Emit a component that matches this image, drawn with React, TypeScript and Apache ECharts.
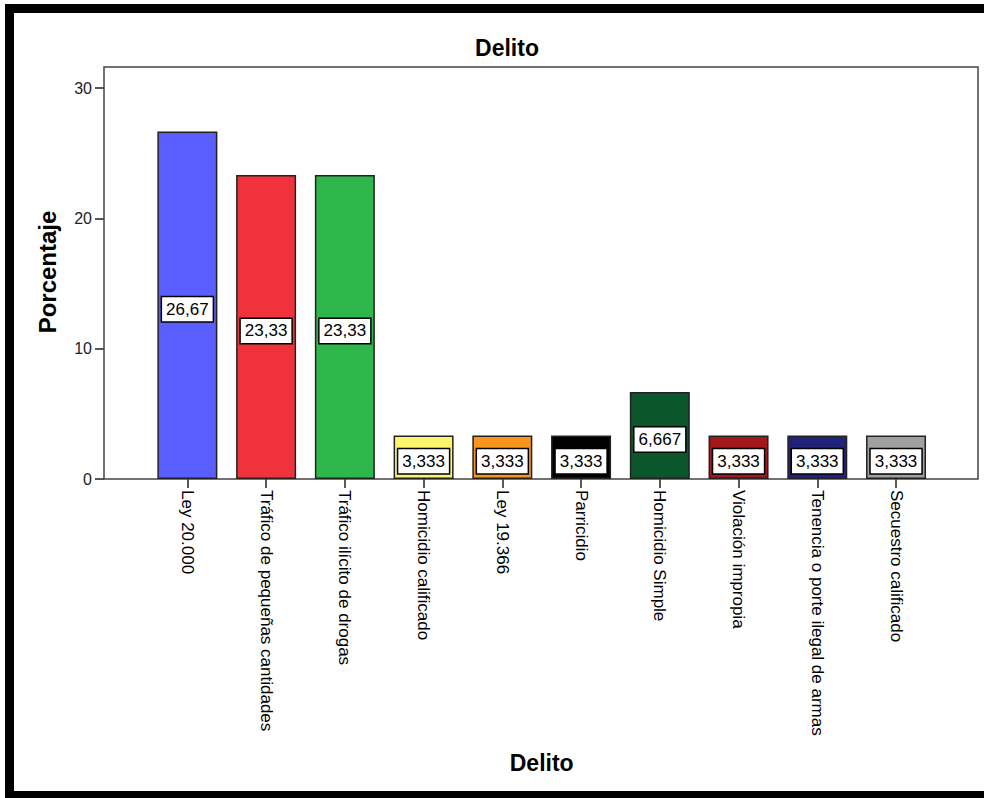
import React, { useEffect, useRef } from "react";
import * as echarts from "echarts";

const categories = [
  "Ley 20.000",
  "Tráfico de pequeñas cantidades",
  "Tráfico ilícito de drogas",
  "Homicidio calificado",
  "Ley 19.366",
  "Parricidio",
  "Homicidio Simple",
  "Violación impropia",
  "Tenencia o porte ilegal de armas",
  "Secuestro calificado",
];
const percentages = [26.67, 23.33, 23.33, 3.333, 3.333, 3.333, 6.667, 3.333, 3.333, 3.333];
const barColors = [
  "#5a5eff",
  "#f0323c",
  "#2eb84b",
  "#fbf46c",
  "#f8951e",
  "#000000",
  "#0b562b",
  "#a31619",
  "#21237a",
  "#a0a0a0",
];
const yTicks = [0, 10, 20, 30];

const FONT = "'Liberation Sans', Arial, sans-serif";

export default function App() {
  const ref = useRef<HTMLDivElement>(null);
  useEffect(() => {
    if (!ref.current) return;
    const chart = echarts.init(ref.current, null, { renderer: "svg" });
    chart.setOption({
      animation: false,
      backgroundColor: "#ffffff",
      title: {
        text: "Delito",
        left: 502,
        top: 31,
        textAlign: "center",
        textStyle: { fontFamily: FONT, fontSize: 23, fontWeight: "bold", color: "#000" },
      },
      grid: { left: 148, right: 48.6, top: 88, bottom: 319, containLabel: false },
      xAxis: {
        type: "category",
        data: categories,
        name: "Delito",
        nameLocation: "middle",
        nameGap: 272,
        nameTextStyle: { fontFamily: FONT, fontSize: 23, fontWeight: "bold", color: "#000" },
        axisLine: { show: false },
        axisTick: { show: true, alignWithLabel: true, length: 9, lineStyle: { color: "#222", width: 1.5 } },
        axisLabel: {
          interval: 0,
          rotate: -90,
          margin: 11,
          fontFamily: FONT,
          fontSize: 17,
          color: "#000",
        },
      },
      yAxis: {
        type: "value",
        min: yTicks[0],
        max: yTicks[yTicks.length - 1],
        interval: 10,
        offset: 44,
        axisLine: { show: false },
        splitLine: { show: false },
        axisTick: { show: true, length: 9, lineStyle: { color: "#222", width: 1.5 } },
        axisLabel: { fontFamily: FONT, fontSize: 16, color: "#222", margin: 12 },
      },
      graphic: [
        {
          type: "rect",
          z: 1,
          shape: { x: 104, y: 67, width: 874, height: 412 },
          style: { fill: "none", stroke: "#444", lineWidth: 1.5 },
        },
        {
          type: "text",
          x: 47,
          y: 272,
          rotation: Math.PI / 2,
          style: {
            text: "Porcentaje",
            font: `bold 24px ${FONT}`,
            fill: "#000",
            textAlign: "center",
            textVerticalAlign: "middle",
          },
        },
        {
          type: "rect",
          z: 150,
          shape: { x: 979.5, y: 13, width: 10, height: 778 },
          style: { fill: "#ffffff" },
        },
        {
          type: "rect",
          z: 160,
          shape: { x: 5, y: 4, width: 985, height: 9 },
          style: { fill: "#000000" },
        },
        {
          type: "rect",
          z: 160,
          shape: { x: 5, y: 4, width: 9, height: 794 },
          style: { fill: "#000000" },
        },
        {
          type: "rect",
          z: 160,
          shape: { x: 5, y: 791, width: 985, height: 8 },
          style: { fill: "#000000" },
        },
      ],
      series: [
        {
          type: "bar",
          barWidth: 60,
          z: 5,
          data: percentages.map((v, i) => ({
            value: v,
            itemStyle: { color: barColors[i], borderColor: "#222", borderWidth: 1.5 },
          })),
          label: {
            show: true,
            position: "inside",
            offset: [0, 4],
            formatter: (p: any) => String(p.value).replace(".", ","),
            fontFamily: FONT,
            fontSize: 17,
            color: "#000",
            backgroundColor: "#fff",
            borderColor: "#000",
            borderWidth: 1.5,
            padding: [4, 4, 3, 4],
          },
        },
      ],
    });
    return () => chart.dispose();
  }, []);
  return (
    <div
      ref={ref}
      style={{ position: "fixed", left: 0, top: 0, width: 984, height: 798 }}
    />
  );
}
